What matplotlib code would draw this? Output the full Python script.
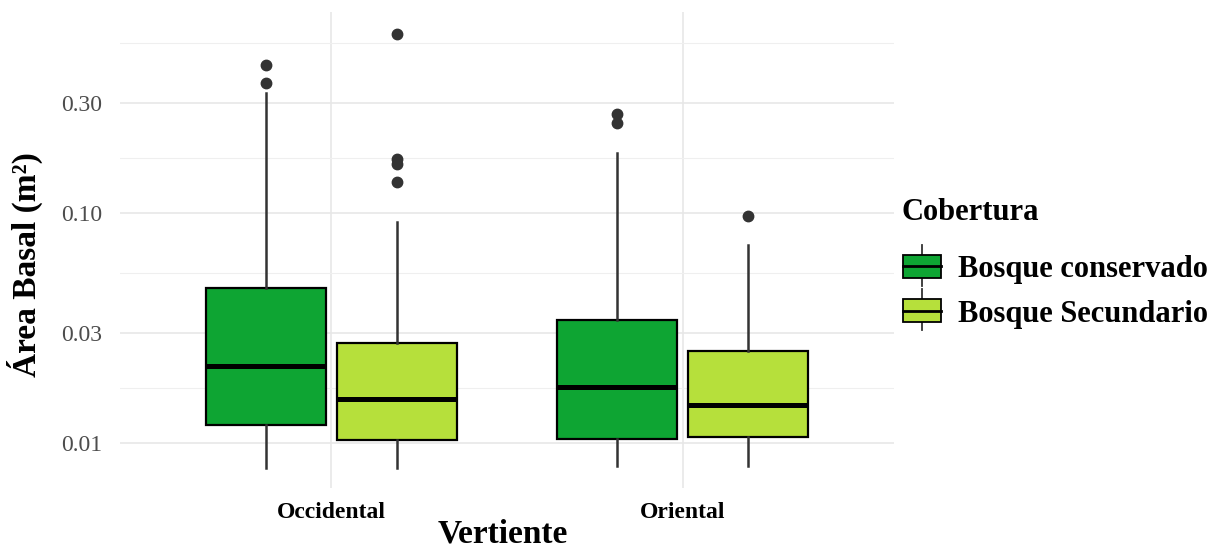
import matplotlib
matplotlib.use("Agg")
import matplotlib.pyplot as plt
import numpy as np
from matplotlib.patches import Patch, Rectangle
from matplotlib.lines import Line2D
from matplotlib.legend_handler import HandlerBase
from matplotlib.ticker import FixedLocator, NullFormatter

plt.rcParams['font.family'] = ['Liberation Serif', 'DejaVu Serif']

# Resumen de cajas por vertiente (Occidental, Oriental)
vertientes = ["Occidental", "Oriental"]
coberturas = ["Bosque conservado", "Bosque Secundario"]
colores = ["#0ea533", "#b6e03b"]

cons_lo = [0.0078, 0.0079]
cons_q1 = [0.0119, 0.0104]
cons_med = [0.0216, 0.0175]
cons_q3 = [0.0469, 0.0342]
cons_hi = [0.332, 0.182]
cons_out = [[0.439, 0.365], [0.270, 0.245]]

sec_lo = [0.0078, 0.0079]
sec_q1 = [0.0103, 0.0106]
sec_med = [0.0155, 0.0146]
sec_q3 = [0.0271, 0.0251]
sec_hi = [0.0908, 0.0724]
sec_out = [[0.598, 0.171, 0.163, 0.136], [0.0968]]

y_breaks = [0.01, 0.03, 0.10, 0.30]
y_labels = ["0.01", "0.03", "0.10", "0.30"]


class BoxKey(HandlerBase):
    """Legend key drawn as a small boxplot."""

    def create_artists(self, legend, orig_handle, xdescent, ydescent,
                       width, height, fontsize, trans):
        x0, y0 = -xdescent, -ydescent
        xc = x0 + width / 2
        box = Rectangle((x0, y0), width, height, facecolor=orig_handle.get_facecolor(),
                        edgecolor="black", lw=1.3, transform=trans)
        med = Line2D([x0, x0 + width], [y0 + height / 2] * 2, color="black", lw=2.0, transform=trans)
        w_up = Line2D([xc, xc], [y0 + height, y0 + height * 1.45], color="#333333", lw=1.3, transform=trans)
        w_dn = Line2D([xc, xc], [y0, y0 - height * 0.35], color="#333333", lw=1.3, transform=trans)
        return [w_up, w_dn, box, med]


fig = plt.figure(figsize=(12.25, 5.58), dpi=100)
ax = fig.add_axes([120 / 1225, 70 / 558, 774 / 1225, 476 / 558])

groups = [
    (cons_lo, cons_q1, cons_med, cons_q3, cons_hi, cons_out),
    (sec_lo, sec_q1, sec_med, sec_q3, sec_hi, sec_out),
]
offsets = [-0.186, 0.186]
box_width = 0.341

for k, (lo, q1, med, q3, hi, out) in enumerate(groups):
    stats = []
    for i in range(len(vertientes)):
        stats.append(dict(whislo=lo[i], q1=q1[i], med=med[i], q3=q3[i],
                          whishi=hi[i], fliers=out[i]))
    pos = np.arange(len(vertientes)) + offsets[k]
    ax.bxp(stats, positions=pos, widths=box_width, patch_artist=True,
           showcaps=False, manage_ticks=False,
           boxprops=dict(facecolor=colores[k], edgecolor="black", lw=1.6),
           medianprops=dict(color="black", lw=3.6, solid_capstyle="butt"),
           whiskerprops=dict(color="#333333", lw=1.8),
           flierprops=dict(marker="o", markerfacecolor="#333333",
                           markeredgecolor="#333333", markersize=7.5))

ax.set_yscale("log")
ax.set_ylim(10 ** -2.197, 10 ** -0.127)
ax.set_xlim(-0.6, 1.6)

ax.yaxis.set_major_locator(FixedLocator(y_breaks))
ax.set_yticklabels(y_labels)
ax.yaxis.set_minor_locator(FixedLocator(np.sqrt([0.01 * 0.03, 0.03 * 0.1, 0.1 * 0.3, 0.3 * 1.0])))
ax.yaxis.set_minor_formatter(NullFormatter())
ax.set_xticks(range(len(vertientes)))
ax.set_xticklabels(vertientes, fontsize=17, fontweight="bold")

ax.grid(True, which="major", color="#e6e6e6", lw=1.1)
ax.grid(True, which="minor", axis="y", color="#efefef", lw=0.8)
ax.set_axisbelow(True)
for s in ax.spines.values():
    s.set_visible(False)
ax.tick_params(axis="both", which="both", length=0)
ax.tick_params(axis="y", labelsize=17, labelcolor="#4d4d4d", pad=13)
ax.tick_params(axis="x", pad=10)

ax.set_ylabel("Área Basal (m²)", fontsize=24, fontweight="bold")
ax.yaxis.set_label_coords(-0.10, 0.47)
ax.set_xlabel("Vertiente", fontsize=24, fontweight="bold")
ax.xaxis.set_label_coords(0.495, -0.065)

# Leyenda: título aparte y claves con forma de caja
fig.text(902 / 1225, 1 - 213 / 558, "Cobertura", fontsize=22, fontweight="bold",
         ha="left", va="center")
handles = [Patch(facecolor=c) for c in colores]
leg = fig.legend(handles, coberturas, handler_map={Patch: BoxKey()},
                 loc="upper left", bbox_to_anchor=(903 / 1225, 1 - 255 / 558),
                 frameon=False, borderpad=0, borderaxespad=0,
                 prop=dict(size=22, weight="bold"),
                 handlelength=1.25, handleheight=0.78,
                 handletextpad=0.55, labelspacing=0.5)

fig.savefig("out.png", dpi=100)
